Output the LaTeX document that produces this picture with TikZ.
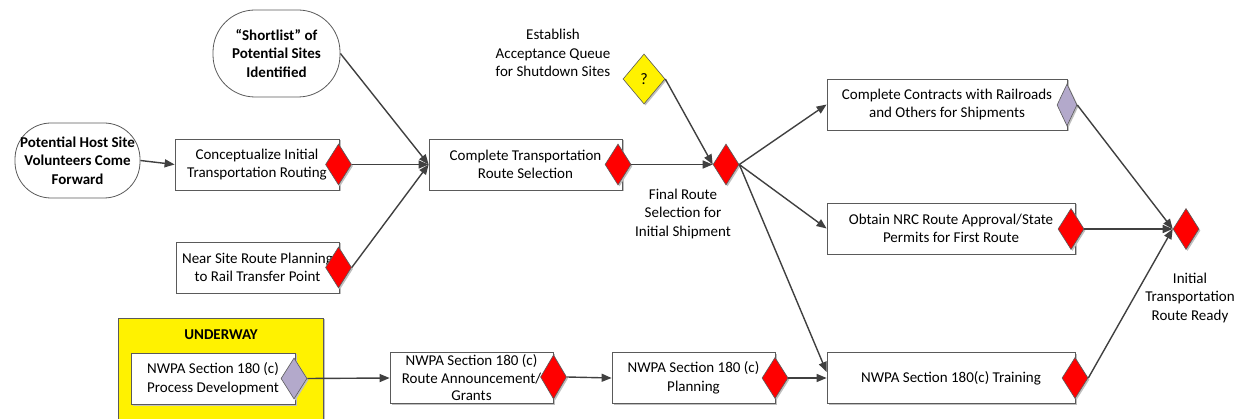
\documentclass[tikz,border=0pt]{standalone}
\usepackage{fontspec}
\setmainfont{Carlito}
\usetikzlibrary{arrows.meta,shapes.geometric,shadows,calc}
\definecolor{lav}{HTML}{B3A9CB}
\definecolor{ln}{HTML}{404040}
\definecolor{bd}{HTML}{5A5A5A}
\begin{document}
\begin{tikzpicture}[x=1pt,y=-1pt,
  font=\fontsize{15}{18.5}\selectfont,
  shad/.style={drop shadow={shadow xshift=1.5pt,shadow yshift=-1.5pt,fill=black!25,opacity=1}},
  box/.style={draw=bd, line width=0.8pt, fill=white, rectangle, inner sep=0pt, align=center, minimum height=51pt, shad},
  roundbox/.style={draw=bd, line width=0.8pt, fill=white, rectangle, rounded corners=38pt, inner sep=0pt, align=center, font=\fontsize{15}{18.5}\selectfont\bfseries},
  dia/.style={diamond, draw=bd, line width=0.6pt, fill=red, inner sep=0pt, minimum width=26pt, minimum height=41pt, shad},
  lbl/.style={align=center, inner sep=0pt},
  arr/.style={draw=ln, line width=1.4pt, -{Triangle[length=10pt,width=8pt]}}
]
\useasboundingbox (0,0) rectangle (1247,419);
\clip (0,0) rectangle (1247,419);
% underway
\node[draw=bd, fill=yellow, line width=0.8pt, minimum width=205pt, minimum height=110pt, inner sep=0pt, shad] (uw) at (220.5,373) {};
\node[lbl, font=\fontsize{15}{18.5}\selectfont\bfseries] (uwt) at (221,335) {UNDERWAY};
% rounded
\node[roundbox, minimum width=127pt, minimum height=87pt, rounded corners=42pt] (short) at (276.5,53.5) {“Shortlist” of\\Potential Sites\\Identified};
\node[roundbox, minimum width=125pt, minimum height=75pt, rounded corners=36pt] (host) at (77.5,160.5) {Potential Host Site\\Volunteers Come\\Forward};
% boxes
\node[box, minimum width=164pt] (conc) at (257,164.5) {Conceptualize Initial\\Transportation Routing};
\node[box, minimum width=163pt] (near) at (257.5,267.5) {Near Site Route Planning\\to Rail Transfer Point};
\node[box, minimum width=193pt] (cts) at (525.5,164.5) {Complete Transportation\\Route Selection};
\node[box, minimum width=240pt] (contr) at (947,104.5) {Complete Contracts with Railroads\\and Others for Shipments};
\node[box, minimum width=248pt] (nrc) at (951,228.5) {Obtain NRC Route Approval/State\\Permits for First Route};
\node[box, minimum width=248pt] (train) at (951,378) {NWPA Section 180(c) Training};
\node[box, minimum width=164pt] (proc) at (213,378.5) {NWPA Section 180 (c)\\Process Development};
\node[box, minimum width=163pt, font=\fontsize{15}{17.5}\selectfont] (ann) at (471.5,378) {NWPA Section 180 (c)\\Route Announcement/\\Grants};
\node[box, minimum width=163pt] (plan) at (693.5,378) {NWPA Section 180 (c)\\Planning};
% diamonds
\node[dia] (d1) at (338.5,164.5) {};
\node[dia] (d2) at (338.5,267.5) {};
\node[dia, fill=yellow, minimum width=42pt, minimum height=50pt, font=\fontsize{16}{18}\selectfont] (dq) at (644,79) {?};
\node[dia] (d3) at (618,164.5) {};
\node[dia] (dfin) at (726,164.5) {};
\node[dia, fill=lav, minimum width=20pt, minimum height=42pt] (dcon) at (1067,105) {};
\node[dia] (dnrc) at (1071,229) {};
\node[dia] (dend) at (1186,229) {};
\node[dia, fill=lav] (dproc) at (294,378.5) {};
\node[dia, minimum height=44pt] (dann) at (553.5,377) {};
\node[dia] (dplan) at (775,378) {};
\node[dia] (dtrain) at (1075,378) {};
% labels
\node[lbl] (lq) at (553,53) {Establish\\Acceptance Queue\\for Shutdown Sites};
\node[lbl] (lfin) at (683,214) {Final Route\\Selection for\\Initial Shipment};
\node[lbl] (lend) at (1190,298) {Initial\\Transportation\\Route Ready};
% connectors
\draw[arr] (host.east) -- (conc.west);
\draw[arr] (d1.east) -- (cts.west);
\draw[arr] (short.east) -- (cts.west);
\draw[arr] (d2.east) -- (cts.west);
\draw[arr] (d3.east) -- (dfin.west);
\draw[arr] (dq.east) -- (dfin.west);
\draw[arr] (dfin.east) -- (contr.west);
\draw[arr] (dfin.east) -- (nrc.west);
\draw[arr] (dfin.east) -- ($(train.west)+(0,-6)$);
\draw[arr] (dplan.east) -- (train.west);
\draw[arr] (dcon.east) -- (dend.west);
\draw[arr] (dnrc.east) -- (dend.west);
\draw[arr] (dtrain.east) -- (dend.west);
\draw[arr] (dproc.east) -- (ann.west);
\draw[arr] (dann.east) -- (plan.west);
\end{tikzpicture}
\end{document}
